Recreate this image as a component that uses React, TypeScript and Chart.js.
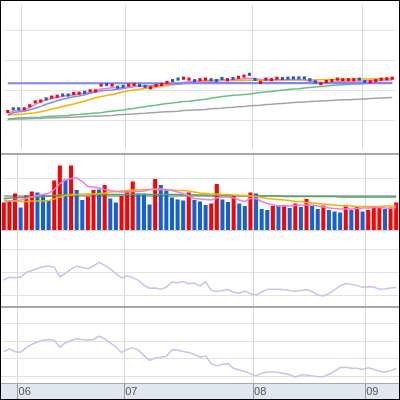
import React, { useEffect, useRef } from 'react';
import { Chart, registerables } from 'chart.js';

Chart.register(...registerables);
Chart.defaults.font.family = "'Liberation Sans', Arial, sans-serif";

// ---------- DATA ----------
const categories = [
  '05/29', '05/30', '05/31',
  '06/01', '06/02', '06/05', '06/06', '06/07', '06/08', '06/09', '06/12', '06/13', '06/14', '06/15', '06/16', '06/19', '06/20', '06/21', '06/22', '06/23', '06/26', '06/27',
  '07/01', '07/02', '07/03', '07/06', '07/07', '07/08', '07/09', '07/10', '07/13', '07/14', '07/15', '07/16', '07/17', '07/20', '07/21', '07/22', '07/23', '07/24', '07/27', '07/28', '07/29', '07/30', '07/31',
  '08/03', '08/04', '08/05', '08/06', '08/07', '08/10', '08/11', '08/12', '08/13', '08/14', '08/17', '08/18', '08/19', '08/20', '08/21', '08/24', '08/25', '08/26', '08/27', '08/28',
  '09/01', '09/02', '09/03', '09/04', '09/07', '09/08',
];

const closes = [
  1331, 1340, 1340, 1340, 1350, 1363, 1366, 1373, 1379, 1382,
  1386, 1386, 1391, 1392, 1395, 1400, 1400, 1419, 1421, 1419,
  1412, 1415, 1419, 1421, 1418, 1415, 1410, 1418, 1421, 1428,
  1434, 1439, 1442, 1439, 1434, 1437, 1439, 1437, 1434, 1441,
  1437, 1441, 1445, 1449, 1455, 1438, 1428, 1439, 1437, 1442,
  1441, 1442, 1443, 1443, 1443, 1437, 1430, 1424, 1431, 1434,
  1439, 1437, 1437, 1437, 1439, 1431, 1430, 1434, 1439, 1440,
  1442,
];

const candleDir = [
  'u', 'd', 'd', 'u', 'u', 'u', 'u', 'd', 'u', 'u',
  'd', 'd', 'u', 'u', 'd', 'u', 'u', 'u', 'd', 'u',
  'd', 'd', 'u', 'u', 'd', 'd', 'u', 'u', 'u', 'u',
  'd', 'd', 'u', 'u', 'd', 'u', 'u', 'd', 'd', 'd',
  'u', 'd', 'u', 'u', 'd', 'd', 'u', 'u', 'u', 'u',
  'd', 'd', 'd', 'd', 'd', 'd', 'd', 'u', 'u', 'u',
  'u', 'u', 'u', 'u', 'd', 'd', 'u', 'u', 'u', 'u',
  'u',
];

const resistanceLevel = 1425;

const priceMaPink = [
  1325, 1332, 1334, 1336, 1345, 1354, 1363, 1370, 1374, 1378,
  1382, 1384, 1386, 1389, 1392, 1395, 1400, 1406, 1408, 1410,
  1410, 1411, 1413, 1415, 1415, 1414, 1413, 1416, 1419, 1422,
  1424, 1426, 1428, 1430, 1432, 1433, 1434, 1434, 1435, 1436,
  1436, 1437, 1439, 1440, 1442, 1440, 1438, 1437, 1437, 1437,
  1437, 1438, 1438, 1438, 1436, 1433, 1431, 1426, 1427, 1428,
  1430, 1432, 1433, 1433, 1433, 1433, 1434, 1435, 1435, 1436,
  1436,
];

const priceMaBlue = [
  1319, 1327, 1330, 1332, 1337, 1342, 1348, 1355, 1361, 1367,
  1372, 1376, 1380, 1383, 1387, 1392, 1396, 1400, 1402, 1403,
  1405, 1408, 1411, 1414, 1415, 1416, 1417, 1419, 1420, 1422,
  1423, 1423, 1424, 1425, 1425, 1426, 1427, 1427, 1428, 1428,
  1428, 1428, 1428, 1428, 1427, 1426, 1426, 1427, 1427, 1427,
  1427, 1427, 1427, 1427, 1427, 1428, 1428, 1428, 1428, 1428,
  1428, 1428, 1428, 1428, 1428, 1428, 1428, 1428, 1428, 1428,
  1428,
];

const priceMaOrange = [
  1319, 1320, 1322, 1323, 1325, 1327, 1330, 1334, 1339, 1343,
  1348, 1352, 1356, 1361, 1365, 1371, 1377, 1381, 1384, 1388,
  1392, 1396, 1400, 1403, 1405, 1408, 1410, 1412, 1415, 1418,
  1420, 1422, 1425, 1427, 1429, 1431, 1432, 1433, 1433, 1434,
  1434, 1435, 1435, 1435, 1435, 1435, 1435, 1435, 1435, 1436,
  1436, 1436, 1436, 1436, 1436, 1436, 1437, 1437, 1437, 1438,
  1438, 1438, 1438, 1439, 1439, 1439, 1439, 1440, 1440, 1440,
  1440,
];

const priceMaGreen = [
  1307, 1308, 1309, 1310, 1311, 1311, 1312, 1314, 1315, 1316,
  1317, 1318, 1320, 1321, 1323, 1324, 1326, 1327, 1330, 1332,
  1334, 1336, 1339, 1341, 1344, 1347, 1350, 1352, 1355, 1358,
  1359, 1362, 1364, 1365, 1368, 1370, 1372, 1375, 1378, 1381,
  1383, 1385, 1386, 1388, 1389, 1392, 1394, 1396, 1398, 1400,
  1402, 1404, 1406, 1407, 1409, 1411, 1413, 1414, 1416, 1418,
  1419, 1420, 1421, 1423, 1423, 1424, 1425, 1425, 1426, 1426,
  1427,
];

const priceMaGray = [
  1304, 1305, 1306, 1306, 1307, 1308, 1308, 1309, 1310, 1310,
  1311, 1312, 1312, 1313, 1314, 1315, 1315, 1316, 1317, 1318,
  1320, 1321, 1322, 1323, 1324, 1325, 1327, 1328, 1329, 1330,
  1331, 1332, 1334, 1335, 1336, 1337, 1338, 1340, 1341, 1342,
  1344, 1345, 1347, 1348, 1350, 1351, 1352, 1354, 1355, 1357,
  1358, 1359, 1361, 1362, 1363, 1364, 1365, 1366, 1367, 1368,
  1369, 1370, 1370, 1371, 1372, 1373, 1374, 1375, 1376, 1377,
  1378,
];

const volumes = [
  55, 59, 73, 45, 69, 77, 75, 72, 58, 99,
  129, 101, 129, 80, 60, 67, 80, 81, 90, 63,
  55, 68, 80, 97, 73, 73, 51, 102, 90, 80,
  65, 61, 59, 75, 60, 57, 50, 53, 92, 61,
  56, 68, 53, 48, 75, 73, 42, 40, 48, 49,
  49, 44, 53, 46, 62, 48, 42, 49, 40, 37,
  35, 49, 40, 47, 37, 40, 45, 47, 42, 45,
  55,
];

const volumeDir = [
  'u', 'u', 'u', 'd', 'u', 'u', 'd', 'd', 'd', 'u',
  'u', 'd', 'u', 'd', 'd', 'u', 'u', 'd', 'u', 'd',
  'd', 'u', 'u', 'u', 'd', 'd', 'd', 'u', 'd', 'd',
  'd', 'd', 'd', 'u', 'd', 'd', 'd', 'u', 'u', 'd',
  'd', 'u', 'd', 'd', 'u', 'd', 'd', 'd', 'u', 'd',
  'u', 'd', 'u', 'd', 'u', 'd', 'd', 'u', 'd', 'd',
  'd', 'u', 'd', 'u', 'd', 'u', 'u', 'u', 'd', 'u',
  'u',
];

const volumeReference = 68;

const volMaPink = [
  55, 58, 59, 60, 63, 66, 69, 71, 73, 81,
  93, 100, 103, 104, 97, 87, 86, 84, 81, 79,
  77, 76, 76, 77, 77, 78, 81, 82, 82, 81,
  79, 76, 73, 68, 63, 62, 61, 60, 64, 66,
  66, 64, 60, 57, 63, 63, 57, 53, 50, 48,
  48, 48, 49, 50, 50, 50, 48, 46, 44, 43,
  42, 42, 42, 43, 44, 44, 45, 45, 44, 43,
  45,
];

const volMaOrange = [
  60, 59, 58, 57, 57, 58, 58, 58, 59, 62,
  66, 69, 70, 71, 71, 72, 72, 73, 74, 76,
  77, 78, 79, 80, 80, 81, 81, 81, 81, 80,
  80, 79, 79, 78, 76, 74, 73, 72, 72, 71,
  71, 70, 69, 69, 68, 67, 65, 63, 62, 61,
  60, 59, 57, 57, 55, 54, 53, 52, 51, 50,
  49, 48, 48, 47, 47, 47, 47, 47, 48, 48,
  48,
];

const volMaGreen = [
  63, 64, 64, 65, 65, 66, 66, 67, 68, 69,
  70, 70, 71, 71, 71, 71, 71, 71, 71, 71,
  71, 71, 71, 71, 71, 71, 71, 71, 71, 71,
  71, 71, 70, 70, 70, 70, 70, 69, 69, 69,
  69, 69, 69, 68, 68, 68, 68, 68, 68, 68,
  67, 67, 67, 67, 67, 67, 67, 67, 67, 67,
  66, 66, 66, 66, 66, 66, 66, 66, 66, 66,
  66,
];

const oscillatorA = [
  43.9, 46.2, 45.8, 46.5, 50.4, 52.2, 53.9, 55.4, 56.0, 54.9,
  46.8, 49.7, 53.3, 55.9, 54.7, 53.8, 56.1, 59.2, 56.7, 53.5,
  49.5, 45.7, 47.4, 46.2, 43.6, 39.5, 36.8, 36.9, 35.9, 37.7,
  42.2, 41.6, 42.6, 40.7, 41.3, 38.8, 42.3, 35.1, 33.9, 34.8,
  35.6, 33.3, 32.4, 34.3, 32.0, 31.0, 33.5, 35.7, 35.8, 35.8,
  35.5, 34.7, 34.1, 34.8, 35.6, 33.9, 30.8, 30.1, 32.1, 35.4,
  38.9, 40.8, 40.1, 39.0, 37.6, 38.1, 37.8, 35.8, 36.1, 36.9,
  37.4,
];

const oscillatorB = [
  48.1, 51.2, 48.0, 47.5, 52.6, 56.4, 59.0, 61.0, 61.9, 60.8,
  53.0, 58.2, 60.7, 62.7, 61.7, 61.2, 61.9, 65.6, 62.6, 58.1,
  53.4, 47.0, 50.7, 52.6, 49.8, 44.0, 38.3, 40.9, 41.8, 43.0,
  50.2, 49.9, 48.3, 47.3, 44.9, 41.9, 43.2, 34.7, 32.2, 33.6,
  34.7, 29.5, 27.5, 25.9, 23.2, 20.9, 24.0, 25.2, 25.4, 24.7,
  23.6, 22.2, 19.5, 21.9, 21.9, 20.9, 20.0, 20.0, 22.7, 26.3,
  30.3, 30.5, 29.4, 29.4, 28.0, 30.0, 28.4, 26.2, 25.4, 26.7,
  29.2,
];

const priceGridTicks = [1300, 1400, 1500, 1600];
const volumeGridTicks = [102];
const oscAGridTicks = [30, 50, 70];
const oscBGridTicks = [20, 40, 60, 80];

// ---------- STYLE ----------
const RED = '#ff0000';
const BLUE = '#1262d6';
const GRID = '#e2e2e2';
const VGRID = '#d9d9d9';
const SEP = '#a9a9a9';
const BAND = '#dfe7f0';
const PINK = '#f07ce0';
const MABLUE = '#7395e2';
const ORANGE = '#f6b400';
const GREEN = '#62c185';
const GRAY = '#a4a4a4';
const LAVENDER = '#c4c4f2';

const isMonthStart = (i: any) =>
  typeof i === 'number' && i > 0 && i < categories.length &&
  categories[i].slice(0, 2) !== categories[i - 1].slice(0, 2);

function xAxis(bottom: boolean): any {
  const base: any = {
    type: 'category',
    offset: true,
    display: true,
    grid: {
      offset: true,
      drawTicks: bottom,
      tickLength: bottom ? 16 : 0,
      lineWidth: 1,
      color: (c: any) => (isMonthStart(c.index) ? VGRID : 'rgba(0,0,0,0)'),
      tickColor: (c: any) => (isMonthStart(c.index) ? '#9a9a9a' : 'rgba(0,0,0,0)'),
    },
    border: { display: bottom, color: SEP, width: 1 },
  };
  if (bottom) {
    base.backgroundColor = BAND;
    base.ticks = {
      autoSkip: false,
      maxRotation: 0,
      minRotation: 0,
      align: 'start',
      labelOffset: -2,
      padding: -14,
      color: '#555',
      font: { size: 11 },
      callback: (_v: any, i: number) => (isMonthStart(i) ? categories[i].slice(0, 2) : ''),
    };
    base.afterFit = (s: any) => { s.height = 16; };
  } else {
    base.ticks = { display: false };
    base.afterFit = (s: any) => { s.height = 0; };
  }
  return base;
}

function yAxis(min: number, max: number, gridTicks: number[]): any {
  return {
    type: 'linear',
    min,
    max,
    display: true,
    grid: { color: GRID, drawTicks: false, lineWidth: 1 },
    border: { display: false },
    ticks: { display: false },
    afterBuildTicks: (s: any) => { s.ticks = gridTicks.map((v) => ({ value: v })); },
    afterFit: (s: any) => { s.width = 0; },
  };
}

const baseOptions = (x: any, y: any): any => ({
  responsive: false,
  maintainAspectRatio: false,
  animation: false,
  events: [],
  layout: { padding: 0 },
  plugins: { legend: { display: false }, tooltip: { enabled: false }, title: { display: false } },
  scales: { x, y },
});

const line = (data: number[], color: string, width: number, order: number): any => ({
  type: 'line',
  data,
  borderColor: color,
  borderWidth: width,
  pointRadius: 0,
  tension: 0,
  fill: false,
  order,
});

export default function App() {
  const r1 = useRef<HTMLCanvasElement>(null);
  const r2 = useRef<HTMLCanvasElement>(null);
  const r3 = useRef<HTMLCanvasElement>(null);
  const r4 = useRef<HTMLCanvasElement>(null);

  useEffect(() => {
    const charts: Chart[] = [];

    charts.push(new Chart(r1.current!, {
      type: 'line',
      data: {
        labels: categories,
        datasets: [
          {
            type: 'line',
            data: closes,
            showLine: false,
            pointStyle: 'rect',
            pointRadius: 2.2,
            pointBorderWidth: 0,
            pointBackgroundColor: candleDir.map((d) => (d === 'u' ? RED : BLUE)),
            order: 0,
          } as any,
          line(categories.map(() => resistanceLevel), '#8585ee', 2, 1),
          line(priceMaPink, PINK, 1.5, 2),
          line(priceMaBlue, MABLUE, 1.5, 3),
          line(priceMaOrange, ORANGE, 1.5, 4),
          line(priceMaGreen, GREEN, 1.5, 5),
          line(priceMaGray, GRAY, 1.5, 6),
        ],
      },
      options: baseOptions(xAxis(false), yAxis(1206, 1686, priceGridTicks)),
    } as any));

    charts.push(new Chart(r2.current!, {
      type: 'bar',
      data: {
        labels: categories,
        datasets: [
          {
            type: 'bar',
            data: volumes,
            backgroundColor: volumeDir.map((d) => (d === 'u' ? RED : BLUE)),
            borderWidth: 0,
            categoryPercentage: 1,
            barPercentage: 0.72,
            order: 3,
          } as any,
          line(categories.map(() => volumeReference), '#b4b4b4', 2, 5),
          line(volMaGreen, '#4aa866', 1.5, 2),
          line(volMaOrange, ORANGE, 1.5, 1),
          line(volMaPink, PINK, 1.5, 0),
        ],
      },
      options: baseOptions(xAxis(false), yAxis(0, 150, volumeGridTicks)),
    } as any));

    charts.push(new Chart(r3.current!, {
      type: 'line',
      data: {
        labels: categories,
        datasets: [line(oscillatorA, LAVENDER, 1.5, 0)],
      },
      options: baseOptions(xAxis(false), yAxis(21.3, 86.5, oscAGridTicks)),
    } as any));

    charts.push(new Chart(r4.current!, {
      type: 'line',
      data: {
        labels: categories,
        datasets: [line(oscillatorB, LAVENDER, 1.5, 0)],
      },
      options: baseOptions(xAxis(true), yAxis(12.9, 97.2, oscBGridTicks)),
    } as any));

    return () => charts.forEach((c) => c.destroy());
  }, []);

  return (
    <div
      style={{
        position: 'fixed',
        left: 0,
        top: 0,
        width: 400,
        height: 400,
        boxSizing: 'border-box',
        border: '1px solid #000',
        background: '#fff',
        overflow: 'hidden',
      }}
    >
      <canvas ref={r1} width={398} height={152} style={{ display: 'block' }} />
      <div style={{ height: 2, background: SEP }} />
      <canvas ref={r2} width={398} height={75} style={{ display: 'block' }} />
      <div style={{ height: 1, background: '#cfd3d8' }} />
      <canvas ref={r3} width={398} height={75} style={{ display: 'block' }} />
      <div style={{ height: 2, background: SEP }} />
      <canvas ref={r4} width={398} height={91} style={{ display: 'block' }} />
    </div>
  );
}
